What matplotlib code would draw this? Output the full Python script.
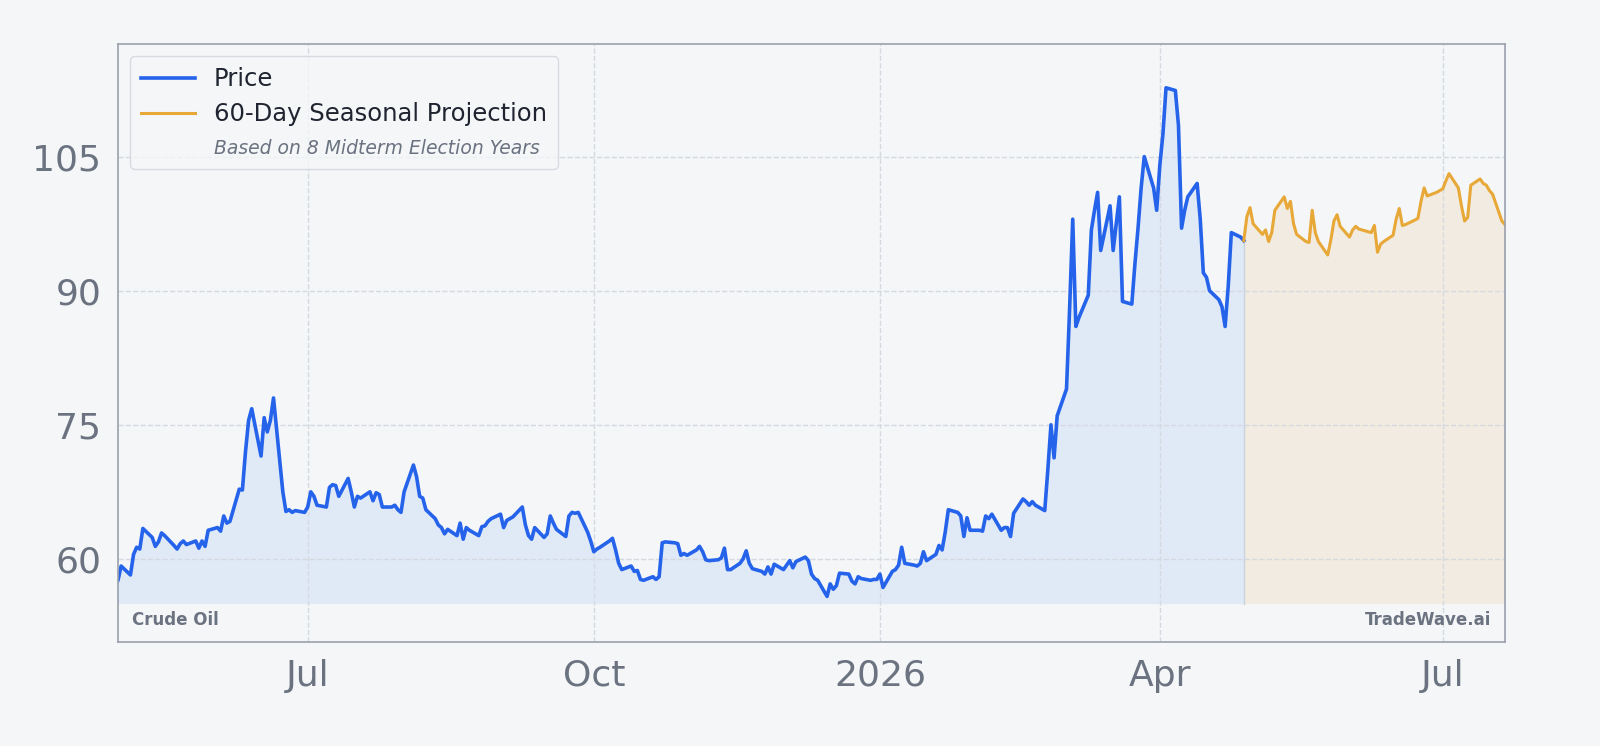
import numpy as np
import pandas as pd
import matplotlib
matplotlib.use("Agg")
import matplotlib.pyplot as plt
from matplotlib.lines import Line2D

# daily closes (business days)
price = [
    60.5, 58.5, 59.3, 58.2, 57, 57.6, 59.2, 58.2, 60.5, 61.3,
    61.1, 63.4, 62.4, 61.4, 61.9, 62.9, 62.6, 61.5, 61.1, 61.7,
    62, 61.6, 62, 61.2, 62, 61.4, 63.2, 63.5, 63.1, 64.8,
    64, 64.2, 67.8, 67.7, 72, 75.5, 76.8, 71.5, 75.8, 74.2,
    75.5, 78, 67.5, 65.3, 65.5, 65.2,
    65.4, 65.2, 65.8, 67.5, 67, 66, 65.8, 68, 68.3, 68.2, 67, 69, 67.5, 65.8, 67, 66.8,
    67.5, 66.5, 67.4, 67.2, 65.8, 65.8,
    66, 65.5, 65.2, 67.5, 70.5, 69.2, 67, 66.8, 65.5, 64.5, 63.8, 63.5, 62.8, 63.3, 62.6,
    64, 62.2, 63.5, 63.2, 62.6, 63.6,
    63.7, 64.2, 64.5, 65, 63.5, 64.3, 64.5, 64.7, 65.8, 63.8, 62.6, 62.2, 63.5, 62.4,
    62.8, 64.8, 64, 63.3, 62.5, 64.8, 65.2, 65.1,
    65.2, 63, 62, 60.8, 61.1, 61.3, 62, 62.3, 61, 59.5, 58.8, 59.2, 58.6, 58.7, 57.7,
    57.6, 58, 57.7, 58, 61.8, 61.9, 61.8, 61.7,
    60.4, 60.6, 60.4, 61, 61.4, 60.8, 59.9, 59.8, 59.9, 60.1, 61.2, 58.8, 58.8, 59.5,
    60, 60.9, 59.5, 58.9, 58.6, 58.3,
    59.1, 58.3, 59.4, 58.8, 59.3, 59.8, 59, 59.7, 60.2, 59.8, 58.3, 57.8, 57.6, 55.8,
    57.2, 56.6, 57, 58.4, 58.3, 57.5, 57.2, 58, 57.8,
    57.6, 57.7, 57.7, 58.3, 56.8, 58.6, 58.8, 59.3, 61.3, 59.5, 59.3, 59.2, 59.5, 60.8,
    59.8, 60.5, 61.5, 61, 63, 65.5, 65.2, 64.8,
    62.5, 64.6, 63.2, 63.2, 63.1, 64.8, 64.5, 65, 63.2, 63.5, 63.5, 62.5, 65.1, 66.7,
    66.4, 66, 66.4, 66, 65.4, 70,
    75, 71.3, 76, 79, 88, 98, 86, 87, 89.5, 96.8, 99, 101, 94.5, 99.5, 94.5, 97.5, 100.5,
    88.8, 88.5, 93, 97, 101.5, 105,
    101.5, 99, 104, 107.5, 112.7, 112.4, 108.5, 97, 99, 100.5, 102, 98, 92, 91.5, 90,
    89, 88.2, 86, 90.5, 96.5, 96, 95.6,
]

projection = [
    95.6, 98.3, 99.3, 97.5, 96.3, 96.8, 95.5, 96.5, 99, 100.5, 99.2, 100, 97.5, 96.3,
    95.5, 95.4, 99, 96.5, 95.5, 94, 95.7, 97.8, 98.5, 97.2, 96, 96.8, 97.2, 96.9, 96.8,
    96.5, 97.3, 94.3, 95.2, 95.5, 96.2, 98, 99.2, 97.3, 97.4, 97.9, 98.1, 100, 101.5,
    100.6, 101, 101.2, 101.4, 102.3, 103.1, 101.5, 99.5, 97.8, 98.2, 101.8, 102.5, 102,
    101.8, 101.2, 100.8, 97.8, 97.4,
]

yticks = [60, 75, 90, 105]
xtick_dates = ["2025-07-01", "2025-10-01", "2026-01-01", "2026-04-01", "2026-07-01"]
xtick_labels = ["Jul", "Oct", "2026", "Apr", "Jul"]

price_dates = pd.bdate_range(end="2026-04-28", periods=len(price))
proj_dates = pd.bdate_range(start="2026-04-28", periods=len(projection))

bg = "#f4f6f8"
blue = "#2563eb"
orange = "#e8a838"
gray = "#6b7280"

fig = plt.figure(figsize=(16, 7.46), dpi=100, facecolor=bg)
ax = fig.add_axes([118 / 1600, 1 - 642 / 746, (1505 - 118) / 1600, (642 - 44) / 746])
ax.set_facecolor(bg)

base = 55.0
ax.fill_between(price_dates, price, base, color="#dbe8f7", alpha=0.8, lw=0)
ax.fill_between(proj_dates, projection, base, color="#f2e9dc", alpha=0.8, lw=0)
ax.plot([proj_dates[0], proj_dates[0]], [base, projection[0]], color="#c9d3de", lw=1)
ax.plot(price_dates, price, color=blue, lw=2.6)
ax.plot(proj_dates, projection, color=orange, lw=2.2)

ax.set_xlim(pd.Timestamp("2025-05-01"), pd.Timestamp("2026-07-21"))
ax.set_ylim(50.7, 117.6)
ax.set_yticks(yticks)
ax.set_xticks(pd.to_datetime(xtick_dates))
ax.set_xticklabels(xtick_labels)
ax.tick_params(length=0, labelsize=26, labelcolor=gray, pad=12)
ax.grid(True, color="#d5d9e0", ls="--", lw=1)
for s in ax.spines.values():
    s.set_color("#9aa0ad")
    s.set_linewidth(1.2)

handles = [
    Line2D([], [], color=blue, lw=2.6),
    Line2D([], [], color=orange, lw=2.2),
    Line2D([], [], color="none"),
]
leg = ax.legend(handles, ["Price", "60-Day Seasonal Projection", "Based on 8 Midterm Election Years"],
                loc="upper left", fontsize=17.5, frameon=True, facecolor=bg,
                edgecolor="#d0d4db", borderpad=0.45, labelspacing=0.45, handlelength=2.2)
t = leg.get_texts()[2]
t.set_fontstyle("italic")
t.set_fontsize(13.5)
t.set_color(gray)
for tx in leg.get_texts()[:2]:
    tx.set_color("#1f2430")

ax.text(0.01, 0.022, "Crude Oil", transform=ax.transAxes, fontsize=12,
        fontweight="bold", color=gray, ha="left", va="bottom")
ax.text(0.99, 0.022, "TradeWave.ai", transform=ax.transAxes, fontsize=12,
        fontweight="bold", color=gray, ha="right", va="bottom")

fig.savefig("out.png", dpi=100, facecolor=bg)
